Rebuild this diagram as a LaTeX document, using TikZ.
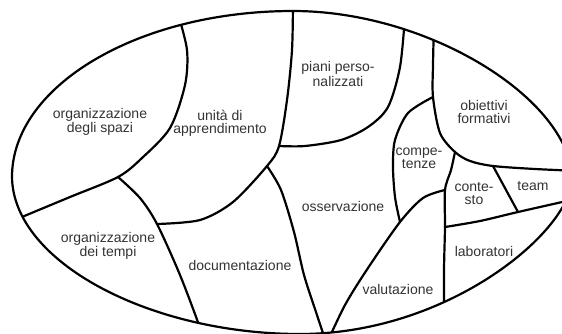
\documentclass[tikz,border=0pt]{standalone}
\usepackage{fontspec}
\setmainfont{Liberation Sans}
\usepackage{tikz}

\tikzset{
  area/.style={font=\fontsize{14}{13}\selectfont, text=black!80, align=center, inner sep=0pt},
  border/.style={line width=2.2pt, line join=round, line cap=round},
}
\newcommand{\outerpath}{(12,177) .. controls (12,86) and (138,11) .. (293,11) .. controls (430,11) and (570,100) .. (572,178) .. controls (572,230) and (450,334) .. (300,334) .. controls (150,334) and (13,262) .. (12,177) -- cycle}

\begin{document}
\begin{tikzpicture}[x=1pt, y=-1pt]
\useasboundingbox (0,0) rectangle (562,333);
\clip (0,0) rectangle (562,333);

% junctions
\coordinate (tj) at (118,177);
\coordinate (uj) at (157,224);
\coordinate (pj) at (279,146);
\coordinate (dj) at (267,166);
\coordinate (cj) at (433,97);
\coordinate (vj) at (455,152);
\coordinate (hj) at (445,190);
\coordinate (gj) at (400,222);
\coordinate (lj) at (445,227);
\coordinate (tm) at (493,166);
\coordinate (tb) at (518,212);

% dividing lines
\begin{scope}
\clip \outerpath;
\draw[border] plot[smooth] coordinates {(178,14) (187,50) (185,85) (170,128) (142,158) (tj) (70,197) (22,217) (2,226)};
\draw[border] plot[smooth] coordinates {(tj) (140,198) (uj) (180,275) (200,328) (204,345)};
\draw[border] plot[smooth] coordinates {(293,2) (292,50) (287,100) (pj) (dj) (233,202) (200,220) (uj)};
\draw[border] plot[smooth] coordinates {(405,16) (400,67) (388,107) (368,127) (341,140) (305,146) (pj)};
\draw[border] plot[smooth] coordinates {(dj) (281,190) (294,232) (304,275) (316,312) (327,345)};
\draw[border] plot[smooth] coordinates {(434,22) (433,65) (cj) (440,133) (vj) (470,161) (tm) (535,169) (580,171)};
\draw[border] plot[smooth] coordinates {(cj) (408,113) (395,140) (393,167) (395,197) (gj)};
\draw[border] plot[smooth] coordinates {(326,345) (345,305) (368,268) (gj) (423,198) (hj)};
\draw[border] plot[smooth] coordinates {(vj) (451,170) (hj) (lj) (444,270) (444,325)};
\draw[border] plot[smooth] coordinates {(lj) (480,221) (tb) (580,198)};
\draw[border] (tm) -- (tb);
\end{scope}

% outline
\draw[border] \outerpath;

% labels
\node[area] (spazi) at (100,122) {organizzazione\\degli spazi};
\node[area] (unita) at (220,123) {unità di\\apprendimento};
\node[area] (piani) at (338,74) {piani perso-\\nalizzati};
\node[area] (obiettivi) at (484,112) {obiettivi\\formativi};
\node[area] (competenze) at (419,158) {compe-\\tenze};
\node[area] (contesto) at (474,194) {conte-\\sto};
\node[area] (team) at (533,186) {team};
\node[area] (laboratori) at (484,251) {laboratori};
\node[area] (valutazione) at (398,289) {valutazione};
\node[area] (osservazione) at (343,206) {osservazione};
\node[area] (documentazione) at (240,265) {documentazione};
\node[area] (tempi) at (108,246) {organizzazione\\dei tempi};
\end{tikzpicture}
\end{document}
